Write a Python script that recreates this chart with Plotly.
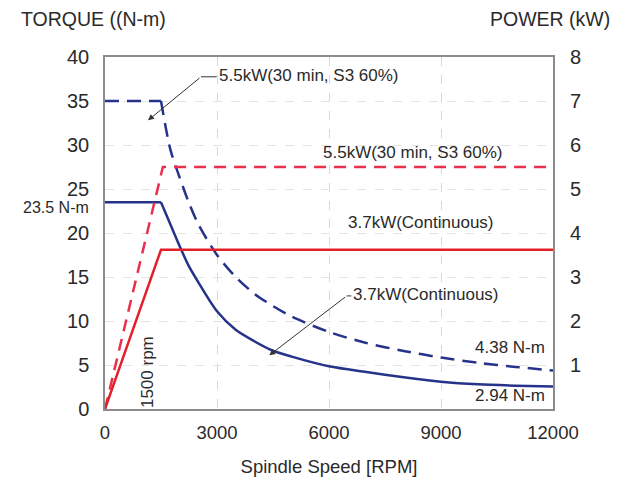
import plotly.graph_objects as go

# ---- data ----
speed_s3 = [0, 1500, 1750, 2000, 2250, 2500, 3000, 3500, 4000, 4500, 5000,
            6000, 7000, 8000, 9000, 10000, 11000, 12000]
torque_s3 = [35, 35, 29.5, 26.3, 23.4, 21.0, 17.5, 15.0, 13.1, 11.7, 10.5,
             8.75, 7.5, 6.6, 5.85, 5.25, 4.78, 4.38]

speed_cont = [0, 1500, 1750, 2000, 2250, 2500, 3000, 3500, 4000, 4500, 5000,
              6000, 7000, 8000, 9000, 10000, 11000, 12000]
torque_cont = [23.5, 23.5, 21.0, 18.5, 16.2, 14.4, 11.1, 9.0, 7.7, 6.62, 5.95,
               4.85, 4.2, 3.6, 3.1, 2.8, 2.65, 2.55]

speed_pow_s3 = [0, 1550, 12000]
power_s3 = [0, 5.5, 5.5]
speed_pow_cont = [0, 1500, 12000]
power_cont = [0, 3.62, 3.62]

x_ticks = [0, 3000, 6000, 9000, 12000]
torque_ticks = [0, 5, 10, 15, 20, 25, 30, 35, 40]
power_ticks = [1, 2, 3, 4, 5, 6, 7, 8]

FONT = "Liberation Sans, Arial, sans-serif"
TXT = "#2a2a2a"
BLUE = "#26338a"
RED = "#e3202a"
RED_D = "#e8304c"

fig = go.Figure()
fig.add_trace(go.Scatter(x=speed_pow_s3, y=power_s3, yaxis="y2", mode="lines",
                         line=dict(color=RED_D, width=2.5, dash="12px,8px"), showlegend=False))
fig.add_trace(go.Scatter(x=speed_pow_cont, y=power_cont, yaxis="y2", mode="lines",
                         line=dict(color=RED, width=2.5), showlegend=False))
# S3 torque: flat part + curved part
fig.add_trace(go.Scatter(x=speed_s3[:2], y=torque_s3[:2], mode="lines",
                         line=dict(color=BLUE, width=2.5, dash="14px,8px"), showlegend=False))
fig.add_trace(go.Scatter(x=speed_s3[1:], y=torque_s3[1:], mode="lines",
                         line=dict(color=BLUE, width=2.5, dash="14px,8px", shape="spline", smoothing=0.8),
                         showlegend=False))
# continuous torque: flat part + curved part
fig.add_trace(go.Scatter(x=speed_cont[:2], y=torque_cont[:2], mode="lines",
                         line=dict(color=BLUE, width=2.5), showlegend=False))
fig.add_trace(go.Scatter(x=speed_cont[1:], y=torque_cont[1:], mode="lines",
                         line=dict(color=BLUE, width=2.5, shape="spline", smoothing=0.8),
                         showlegend=False))

ann_font = dict(family=FONT, size=17, color=TXT)
annotations = [
    dict(x=2990, y=37.85, text="5.5kW(30 min, S3 60%)", xanchor="left", showarrow=False, font=ann_font),
    dict(x=8237, y=29.2, text="5.5kW(30 min, S3 60%)", xanchor="center", showarrow=False, font=ann_font),
    dict(x=8464, y=21.2, text="3.7kW(Continuous)", xanchor="center", showarrow=False, font=ann_font),
    dict(x=6580, y=12.96, text="3.7kW(Continuous)", xanchor="left", showarrow=False, font=ann_font),
    dict(x=11850, y=6.99, text="4.38 N-m", xanchor="right", showarrow=False, font=ann_font),
    dict(x=11850, y=1.58, text="2.94 N-m", xanchor="right", showarrow=False, font=ann_font),
    dict(x=0, y=22.9, text="23.5 N-m", xanchor="right", xshift=-14, showarrow=False,
         font=dict(family=FONT, size=16, color=TXT)),
    dict(x=1125, y=4.2, text="1500 rpm", textangle=-90, showarrow=False, font=ann_font),
    # leader arrows
    dict(x=1152, y=32.8, ax=2571, ay=37.75, axref="x", ayref="y", text="", showarrow=True,
         arrowhead=2, arrowsize=1.2, arrowwidth=1, arrowcolor="#333"),
    dict(x=4400, y=6.1, ax=6473, ay=12.85, axref="x", ayref="y", text="", showarrow=True,
         arrowhead=2, arrowsize=1.2, arrowwidth=1, arrowcolor="#333"),
    # axis titles
    dict(xref="paper", yref="paper", x=-0.192, y=1.0, yshift=38, text="TORQUE ((N-m)",
         xanchor="left", yanchor="middle", showarrow=False, font=dict(family=FONT, size=19.5, color=TXT)),
    dict(xref="paper", yref="paper", x=1.132, y=1.0, yshift=38, text="POWER (kW)",
         xanchor="right", yanchor="middle", showarrow=False, font=dict(family=FONT, size=19.5, color=TXT)),
]

shapes = [
    dict(type="line", xref="x", yref="y", x0=2571, y0=37.75, x1=2990, y1=37.75,
         line=dict(color="#333", width=1)),
    dict(type="line", xref="x", yref="y", x0=6473, y0=12.85, x1=6600, y1=12.85,
         line=dict(color="#333", width=1)),
]

# page body has an 8px margin, so the figure is sized/offset to compensate
fig.update_layout(
    width=613, height=478,
    margin=dict(l=97, r=68, t=49, b=74),
    paper_bgcolor="white", plot_bgcolor="white",
    font=dict(family=FONT, color=TXT),
    annotations=annotations, shapes=shapes,
    xaxis=dict(range=[0, 12000], tickvals=x_ticks, ticktext=[str(v) for v in x_ticks],
               showgrid=True, gridcolor="#d8d8d8", griddash="dash", gridwidth=1,
               showline=True, linecolor="#8c8c8c", linewidth=1.5, mirror=True,
               ticks="", ticklabelstandoff=6, zeroline=False,
               tickfont=dict(size=18.5, family=FONT, color=TXT),
               title=dict(text="Spindle Speed [RPM]", font=dict(size=18.5, family=FONT, color=TXT), standoff=18)),
    yaxis=dict(range=[0, 40], tickvals=torque_ticks, showgrid=True, gridcolor="#e4e4e4",
               griddash="dash", gridwidth=1, showline=True, linecolor="#8c8c8c", linewidth=1.5,
               mirror=True, ticks="", ticklabelstandoff=10, zeroline=False,
               tickfont=dict(size=20, family=FONT, color=TXT)),
    yaxis2=dict(range=[0, 8], tickvals=power_ticks, overlaying="y", side="right",
                showgrid=False, zeroline=False, showline=False, ticks="", ticklabelstandoff=16,
                tickfont=dict(size=20, family=FONT, color=TXT)),
)

fig.write_html("out.html")
